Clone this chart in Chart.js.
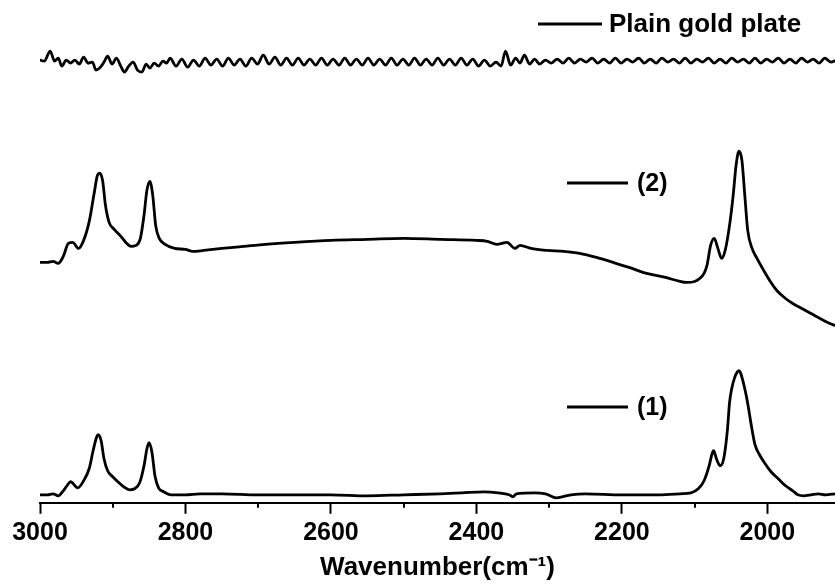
<!DOCTYPE html>
<html>
<head>
<script src="https://cdn.jsdelivr.net/npm/chart.js@4.4.1/dist/chart.umd.min.js"></script>
<style>
  body { margin: 0; background: #fff; }
  #wrap { width: 835px; height: 585px; }
</style>
</head>
<body>
<div id="wrap"><canvas id="spectra" width="835" height="585"></canvas></div>
<script>
// x axis ticks (wavenumber, cm-1)
const xMajorTicks = [3000, 2800, 2600, 2400, 2200, 2000];
const xMinorTicks = [2900, 2700, 2500, 2300, 2100];

// Plain gold plate (offset, arbitrary units)
const plainWn = [
  3000,2994,2986,2980,2975,2970,2964,2958,2952,2946,2940,2934,2928,2923,2918,2912,2907,2901,2895,2889,
  2884,2878,2872,2866,2860,2854,2849,2843,2837,2831,2826,2821,
  2813,2805,2797,2789,2781,2773,2765,2757,2749,2741,2733,2725,2717,2709,2701,2693,2685,2677,2669,2661,
  2653,2645,2637,2629,2621,2613,2605,2597,2589,2581,2573,2565,2557,2549,2541,2533,2525,2517,2509,2501,
  2493,2485,2477,2469,2461,2453,2445,2437,2429,2421,2413,2405,2397,2389,2381,2373,
  2366,2360,2353,2346,2340,2334,2327,2320,2313,2305,
  2297,2289,2281,2273,2265,2257,2249,2241,2233,2225,2217,2209,2201,2193,2185,2177,2169,2161,2153,2145,
  2137,2129,2121,2113,2105,2097,2089,2081,2073,2065,2057,2049,2041,2033,2025,2017,2009,2001,1993,1985,
  1977,1969,1961,1953,1945,1937,1929,1921,1913,1905
];
const plainAbs = [
  442,441,451,441,444,436,442,439,442,438,445,439,440,432,434,440,446,438,444,436,
  430,436,440,432,430,438,434,439,436,441,439,444,
  436,443,435,442,436,444,437,443,436,444,437,443,436,444,438,447,438,445,437,444,
  437,444,437,443,437,444,437,443,437,444,437,443,437,444,437,443,437,444,437,443,
  437,444,437,443,437,444,437,443,437,444,437,443,436,442,436,440,
  436,451,437,444,439,447,438,443,438,442,
  439,443,439,444,439,443,440,444,439,443,439,444,439,443,440,444,439,443,439,444,
  440,443,439,444,439,443,440,444,439,443,439,444,440,443,439,444,439,443,440,444,
  439,443,439,444,440,443,439,444,440,442
];

// Sample (2)
const s2Wn = [
  3000,2990,2982,2975,2968,2961,2955,2947,2940,2932,2926,2921,2918,2914,2910,2905,2898,2890,2882,2875,
  2868,2862,2857,2853,2849,2845,2841,2836,2828,2815,2800,2790,2775,2750,2720,2690,2650,2600,2550,2500,
  2450,2400,2385,2372,2358,2347,2340,2325,2303,2280,2258,2235,2212,2190,2166,2140,2120,2111,2100,2093,
  2087,2083,2078,2073,2068,2063,2058,2052,2047,2043,2039,2035,2031,2027,2021,2015,2005,1995,1987,1975,
  1965,1955,1940,1925,1914,1907
];
const s2Abs = [
  240,240,241,239,246,259,260,254,262,282,307,327,329,322,297,280,273,267,260,256,
  257,264,287,312,321,307,277,264,258,254,253,251,252,254,256,258,260,262,263,264,
  263,262,261,258,260,254,257,254,252,251,249,245,240,235,229,225,221,220,221,224,
  229,237,257,264,254,244,252,277,307,337,351,342,307,272,254,245,232,220,212,204,
  199,195,189,183,179,177
];

// Sample (1)
const s1Wn = [
  3000,2990,2982,2975,2968,2962,2958,2948,2940,2932,2927,2922,2920,2916,2912,2907,2900,2893,2885,2877,
  2870,2863,2857,2853,2850,2846,2842,2837,2830,2820,2800,2780,2750,2700,2650,2600,2550,2500,2450,2420,
  2390,2370,2355,2350,2345,2320,2305,2290,2270,2250,2200,2150,2120,2105,2095,2087,2080,2076,2074,2070,
  2065,2060,2055,2052,2049,2045,2041,2039,2037,2033,2029,2026,2022,2017,2010,2003,1995,1985,1975,1965,
  1958,1950,1940,1930,1920,1907
];
const s1Abs = [
  8,8,9,7,12,18,21,15,22,35,52,66,68,62,44,32,26,21,16,13,
  14,20,37,54,60,50,27,15,11,8,8,9,9,8,8,8,7,8,9,10,
  11,10,8,6,9,10,9,5,8,9,8,8,9,10,14,22,37,49,52,44,
  37,44,72,100,114,125,131,132,130,120,107,95,77,58,47,39,31,24,17,12,
  8,7,8,9,8,9
];

const seriesLabels = ['Plain gold plate', '(2)', '(1)'];

const fontFamily = '"Liberation Sans", Arial, sans-serif';
Chart.defaults.font.family = fontFamily;
Chart.defaults.color = '#000';

function toPoints(wn, abs) {
  return wn.map((x, i) => ({ x: x, y: abs[i] }));
}

// where each legend entry sits, next to its trace
const legendSpots = [
  { x0: 538, x1: 602, y: 24, textX: 609, size: 26 },
  { x0: 567, x1: 628, y: 183, textX: 637, size: 25 },
  { x0: 567, x1: 628, y: 407, textX: 637, size: 25 }
];

const sideLegend = {
  id: 'sideLegend',
  afterDatasetsDraw(chart) {
    const ctx = chart.ctx;
    ctx.save();
    chart.data.datasets.forEach((ds, i) => {
      const s = legendSpots[i];
      ctx.strokeStyle = ds.borderColor;
      ctx.lineWidth = 2.8;
      ctx.beginPath();
      ctx.moveTo(s.x0, s.y);
      ctx.lineTo(s.x1, s.y);
      ctx.stroke();
      ctx.fillStyle = '#000';
      ctx.font = 'bold ' + s.size + 'px ' + fontFamily;
      ctx.textBaseline = 'middle';
      ctx.fillText(ds.label, s.textX, s.y + 1);
    });
    ctx.restore();
  }
};

const minorTicks = {
  id: 'minorTicks',
  afterDraw(chart) {
    const xs = chart.scales.x;
    const ctx = chart.ctx;
    const y0 = chart.chartArea.bottom;
    ctx.save();
    ctx.strokeStyle = '#000';
    ctx.lineWidth = 2;
    xMinorTicks.forEach(v => {
      const px = Math.round(xs.getPixelForValue(v));
      ctx.beginPath();
      ctx.moveTo(px, y0);
      ctx.lineTo(px, y0 + 5);
      ctx.stroke();
    });
    ctx.restore();
  }
};

const lineStyle = {
  borderColor: '#000',
  backgroundColor: '#000',
  borderWidth: 2.8,
  pointRadius: 0,
  fill: false,
  cubicInterpolationMode: 'monotone',
  borderJoinStyle: 'round',
  borderCapStyle: 'round'
};

const ctx = document.getElementById('spectra').getContext('2d');
const chart = new Chart(ctx, {
  type: 'line',
  data: {
    datasets: [
      Object.assign({ label: seriesLabels[0], data: toPoints(plainWn, plainAbs) }, lineStyle),
      Object.assign({ label: seriesLabels[1], data: toPoints(s2Wn, s2Abs) }, lineStyle),
      Object.assign({ label: seriesLabels[2], data: toPoints(s1Wn, s1Abs) }, lineStyle)
    ]
  },
  options: {
    responsive: false,
    animation: false,
    layout: { padding: { left: 40, right: 0, top: 2, bottom: 0 } },
    plugins: { legend: { display: false }, tooltip: { enabled: false } },
    scales: {
      x: {
        type: 'linear',
        reverse: true,
        min: 1907,
        max: 3000,
        afterBuildTicks: s => { s.ticks = xMajorTicks.map(v => ({ value: v })); },
        grid: { display: true, drawOnChartArea: false, tickLength: 11, tickWidth: 2, tickColor: '#000' },
        border: { display: true, color: '#000', width: 2 },
        ticks: {
          color: '#000',
          font: { size: 25, weight: 'bold' },
          padding: 4,
          maxRotation: 0,
          autoSkip: false,
          callback: v => String(v)
        },
        title: {
          display: true,
          text: 'Wavenumber(cm⁻¹)',
          color: '#000',
          font: { size: 26, weight: 'bold' },
          padding: { top: 0, bottom: 2 }
        }
      },
      y: { display: false, min: 0, max: 500 }
    }
  },
  plugins: [sideLegend, minorTicks]
});
</script>
</body>
</html>
